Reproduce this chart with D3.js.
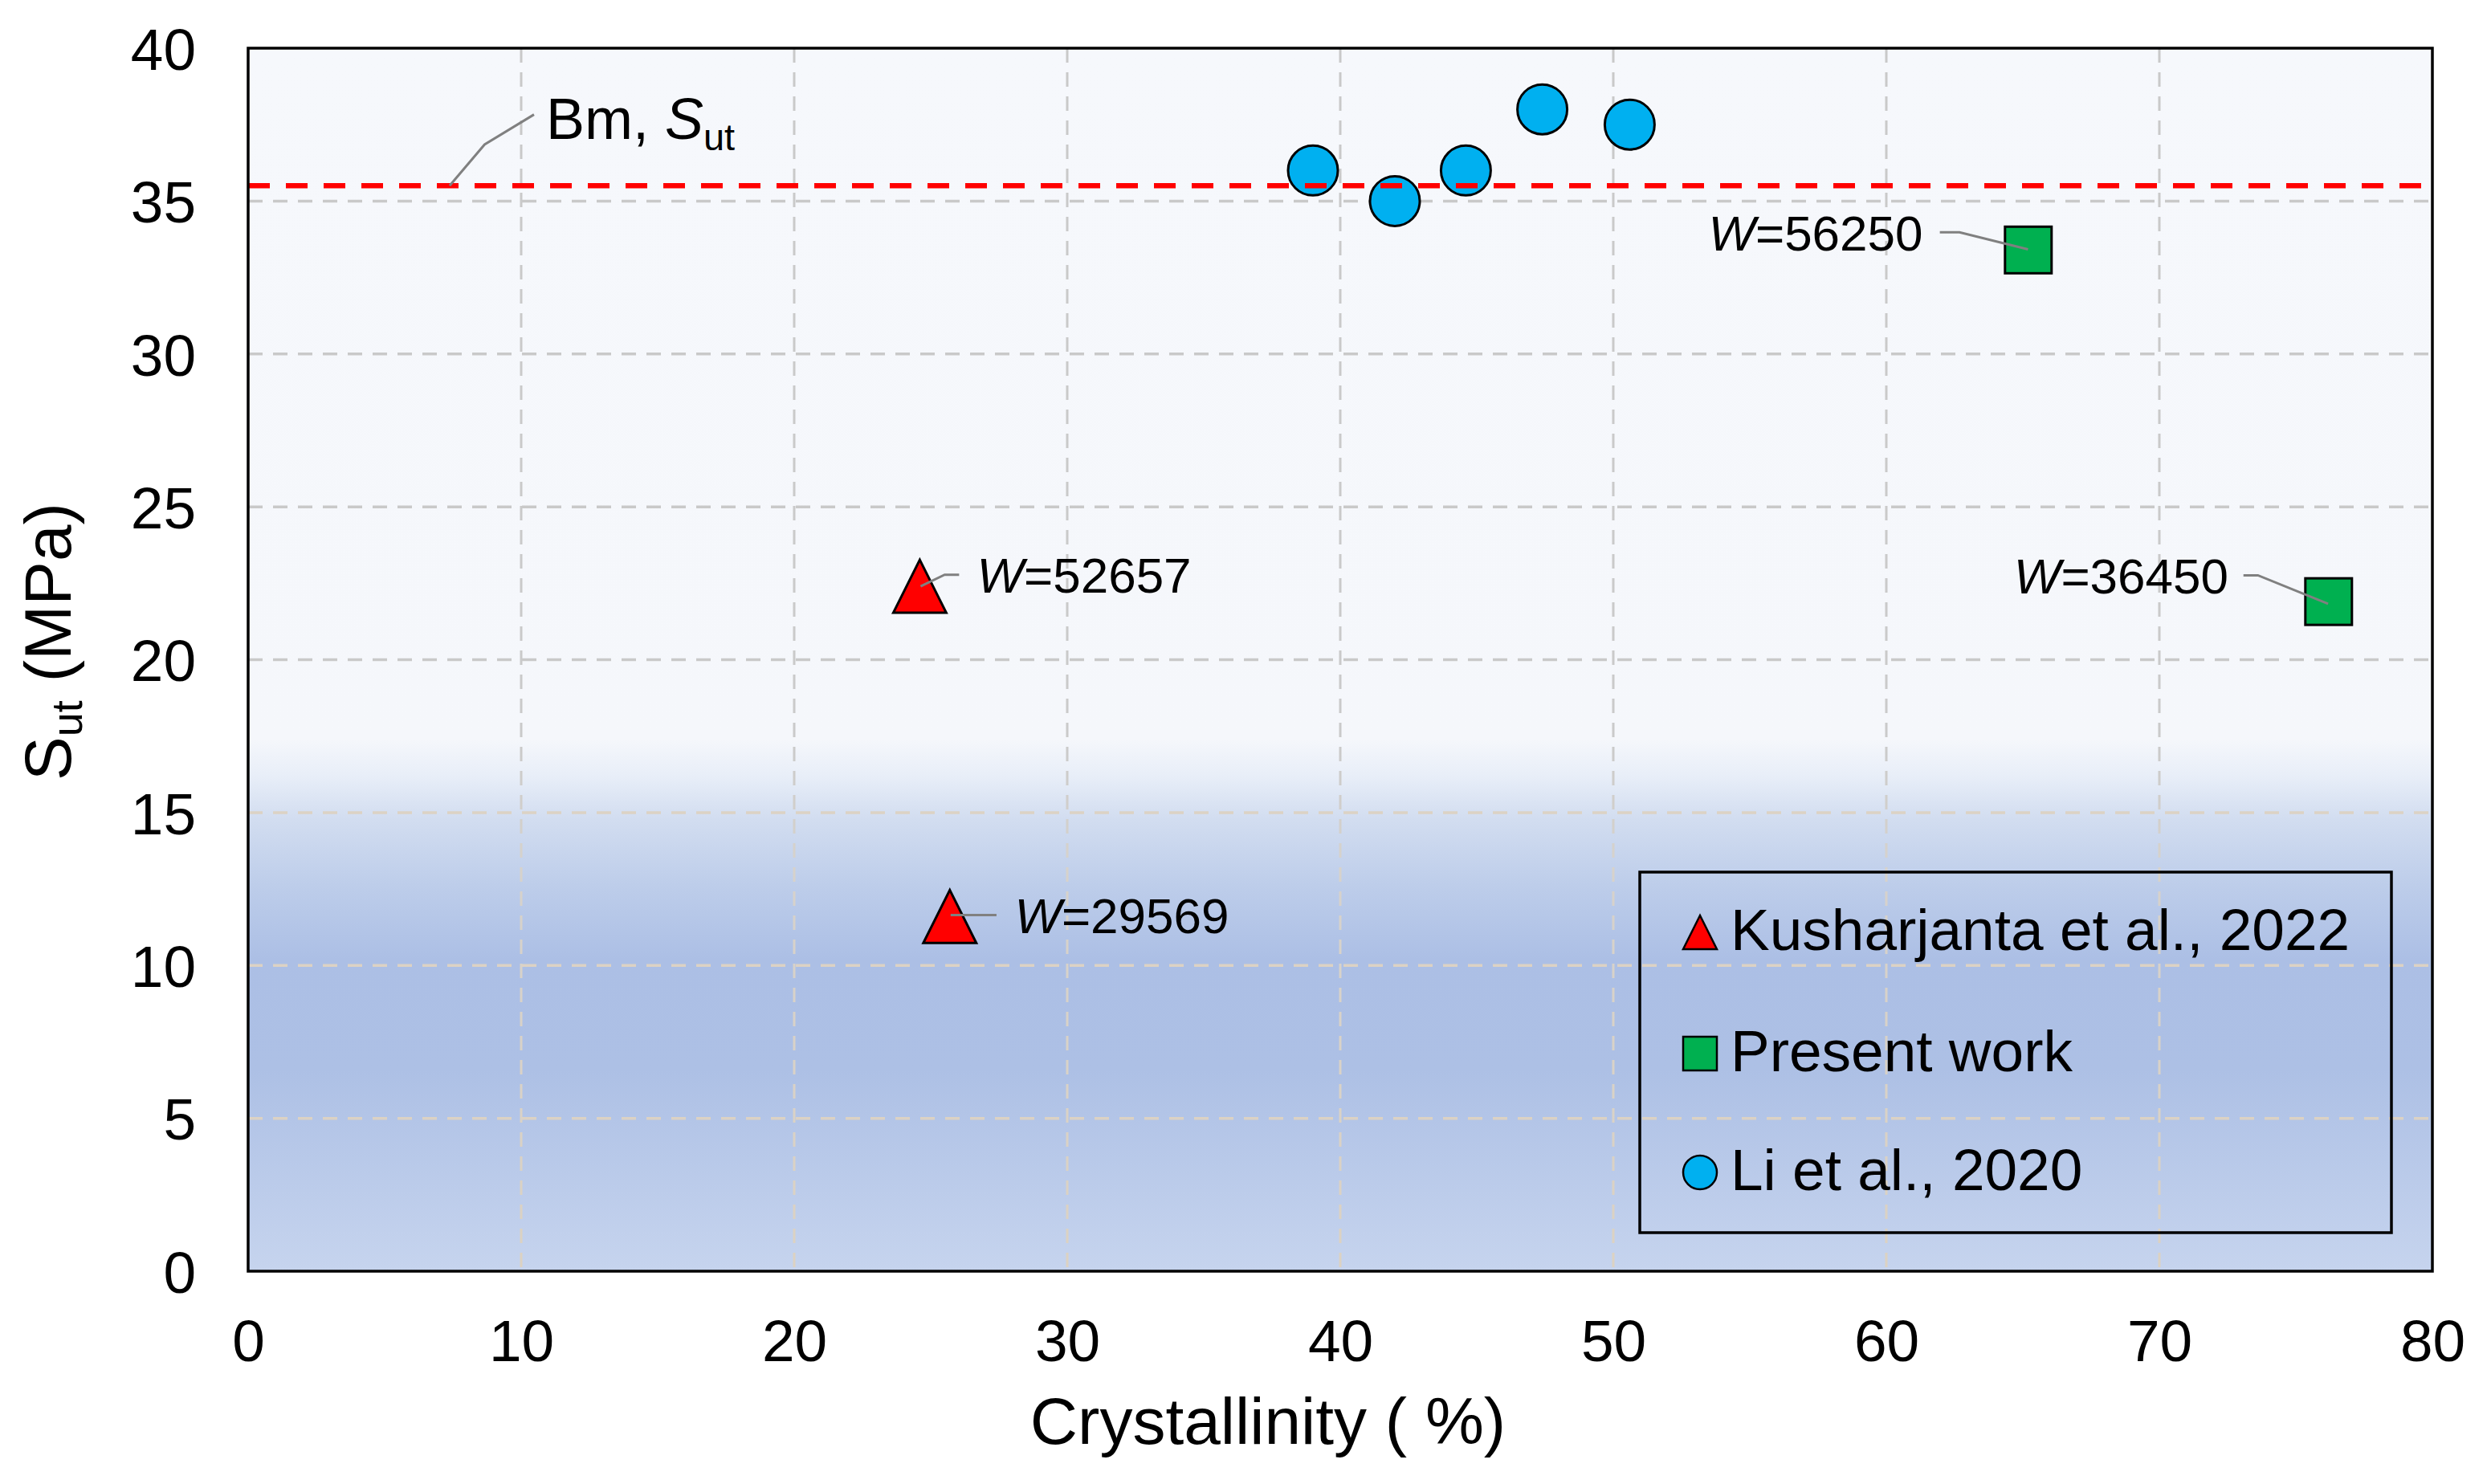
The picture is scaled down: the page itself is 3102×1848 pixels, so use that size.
<!DOCTYPE html>
<html>
<head>
<meta charset="utf-8">
<script src="https://cdn.jsdelivr.net/npm/d3@7"></script>
<style>
  html, body { margin: 0; padding: 0; background: #ffffff; }
  svg { display: block; font-family: "Liberation Sans", Arial, sans-serif; }
</style>
</head>
<body>
<svg id="chart" width="3102" height="1848"></svg>
<script>
// ---------------- data ----------------
const xTicks = [0, 10, 20, 30, 40, 50, 60, 70, 80];
const yTicks = [0, 5, 10, 15, 20, 25, 30, 35, 40];

const kusharjantaX = [24.6, 25.7];
const kusharjantaY = [22.4, 11.6];
const kusharjantaW = ["52657", "29569"];

const presentX = [65.2, 76.2];
const presentY = [33.4, 21.9];
const presentW = ["56250", "36450"];

const liX = [39.0, 42.0, 44.6, 47.4, 50.6];
const liY = [36.0, 35.0, 36.0, 38.0, 37.5];

const bmSut = 35.5;

const seriesNames = ["Kusharjanta et al., 2022", "Present work", "Li et al., 2020"];
const xTitle = "Crystallinity ( %)";

// label anchors & leader lines in data units
const labelAnchors = [
  { w: kusharjantaW[0], x: 26.69, y: 22.20, anchor: "start", leader: [[24.63, 22.40], [25.51, 22.78], [26.04, 22.78]] },
  { w: kusharjantaW[1], x: 28.07, y: 11.06, anchor: "start", leader: [[25.73, 11.65], [27.41, 11.65]] },
  { w: presentW[0], x: 61.34, y: 33.39, anchor: "end", leader: [[61.96, 33.98], [62.68, 33.98], [65.19, 33.42]] },
  { w: presentW[1], x: 72.53, y: 22.16, anchor: "end", leader: [[73.08, 22.76], [73.61, 22.76], [76.18, 21.83]] }
];
const bmLeader = [[7.38, 35.5], [8.66, 36.85], [10.47, 37.83]];
const bmLabelPos = [10.91, 37.03];

// ---------------- layout ----------------
const L = 309, R = 3029, T = 60, B = 1583;
const svg = d3.select("#chart");
const xs = d3.scaleLinear().domain([0, 80]).range([L, R]);
const ys = d3.scaleLinear().domain([0, 40]).range([B, T]);

const defs = svg.append("defs");
const bg = defs.append("linearGradient").attr("id", "bgGrad")
  .attr("x1", 0).attr("y1", 0).attr("x2", 0).attr("y2", 1);
[[0, "#f6f8fc"], [0.565, "#f5f7fb"], [0.595, "#e8eef8"], [0.63, "#d2ddf0"],
 [0.685, "#bdcdea"], [0.745, "#acbfe5"], [0.835, "#adc0e5"], [1, "#c6d4ee"]]
  .forEach(([o, c]) => bg.append("stop").attr("offset", o).attr("stop-color", c));

const gg = defs.append("linearGradient").attr("id", "gridGrad")
  .attr("gradientUnits", "userSpaceOnUse")
  .attr("x1", 0).attr("y1", T).attr("x2", 0).attr("y2", B);
[[0, "#c9c9c9"], [0.57, "#cacaca"], [0.66, "#d6d2cc"], [1, "#dcd2c2"]]
  .forEach(([o, c]) => gg.append("stop").attr("offset", o).attr("stop-color", c));

// plot background
svg.append("rect").attr("x", L).attr("y", T).attr("width", R - L).attr("height", B - T)
  .attr("fill", "url(#bgGrad)");

// grid
const grid = svg.append("g");
grid.selectAll("line.v").data(xTicks.filter(d => d > 0 && d < 80)).join("line")
  .attr("x1", d => xs(d)).attr("x2", d => xs(d)).attr("y1", T).attr("y2", B)
  .attr("stroke", "url(#gridGrad)").attr("stroke-width", 3).attr("stroke-dasharray", "18,12");
grid.selectAll("line.h").data(yTicks.filter(d => d > 0 && d < 40)).join("line")
  .attr("x1", L).attr("x2", R).attr("y1", d => ys(d)).attr("y2", d => ys(d))
  .attr("stroke", d => d >= 17 ? "#c9c9c9" : "#dcd2c4").attr("stroke-width", 3.5).attr("stroke-dasharray", "18,13");

// axes
const yAxis = svg.append("g").attr("transform", `translate(${L},0)`)
  .call(d3.axisLeft(ys).tickValues(yTicks).tickSize(0).tickPadding(65));
yAxis.select(".domain").remove();
yAxis.selectAll("text").attr("font-size", 73).attr("fill", "#000")
  .attr("font-family", "Liberation Sans, Arial, sans-serif").attr("dy", "0.36em");

const xAxis = svg.append("g").attr("transform", `translate(0,${B})`)
  .call(d3.axisBottom(xs).tickValues(xTicks).tickSize(0).tickPadding(60));
xAxis.select(".domain").remove();
xAxis.selectAll("text").attr("font-size", 73).attr("fill", "#000")
  .attr("font-family", "Liberation Sans, Arial, sans-serif").attr("dy", "0.71em");

// axis titles
svg.append("text").attr("x", 1579).attr("y", 1798).attr("text-anchor", "middle")
  .attr("font-size", 82).attr("fill", "#000").text(xTitle);

const yt = svg.append("text").attr("transform", "translate(88,799) rotate(-90)")
  .attr("text-anchor", "middle").attr("font-size", 82).attr("fill", "#000");
yt.append("tspan").text("S");
yt.append("tspan").attr("font-size", 54).attr("dy", 14).text("ut");
yt.append("tspan").attr("dy", -14).text(" (MPa)");

// points
const tri = (cx, cy, w, h) => `M${cx},${cy - h / 2}L${cx + w / 2},${cy + h / 2}L${cx - w / 2},${cy + h / 2}Z`;

svg.append("g").selectAll("circle").data(liX.map((x, i) => [x, liY[i]])).join("circle")
  .attr("cx", d => xs(d[0])).attr("cy", d => ys(d[1])).attr("r", 31)
  .attr("fill", "#00b0f0").attr("stroke", "#000").attr("stroke-width", 3);

svg.append("g").selectAll("rect").data(presentX.map((x, i) => [x, presentY[i]])).join("rect")
  .attr("x", d => xs(d[0]) - 29).attr("y", d => ys(d[1]) - 29).attr("width", 58).attr("height", 58)
  .attr("fill", "#00b050").attr("stroke", "#000").attr("stroke-width", 3);

svg.append("g").selectAll("path").data(kusharjantaX.map((x, i) => [x, kusharjantaY[i]])).join("path")
  .attr("d", d => tri(xs(d[0]), ys(d[1]), 66, 66))
  .attr("fill", "#ff0000").attr("stroke", "#000").attr("stroke-width", 3).attr("stroke-linejoin", "miter");

// reference line
svg.append("line").attr("x1", L).attr("x2", R).attr("y1", ys(bmSut)).attr("y2", ys(bmSut))
  .attr("stroke", "#ff0000").attr("stroke-width", 6.5).attr("stroke-dasharray", "27,20");

// leaders & labels
const lineGen = d3.line().x(d => xs(d[0])).y(d => ys(d[1]));
svg.append("path").attr("d", lineGen(bmLeader)).attr("fill", "none")
  .attr("stroke", "#808080").attr("stroke-width", 3);
const bmt = svg.append("text").attr("x", xs(bmLabelPos[0])).attr("y", ys(bmLabelPos[1]))
  .attr("font-size", 72).attr("fill", "#000");
bmt.append("tspan").text("Bm, ");
bmt.append("tspan").attr("font-style", "italic").text("S");
bmt.append("tspan").attr("font-size", 47).attr("dy", 14).text("ut");

labelAnchors.forEach(a => {
  svg.append("path").attr("d", lineGen(a.leader)).attr("fill", "none")
    .attr("stroke", "#808080").attr("stroke-width", 3);
  const t = svg.append("text").attr("x", xs(a.x)).attr("y", ys(a.y))
    .attr("text-anchor", a.anchor).attr("font-size", 62).attr("fill", "#000");
  t.append("tspan").attr("font-style", "italic").text("W");
  t.append("tspan").text("=" + a.w);
});

// legend
const lg = svg.append("g");
lg.append("rect").attr("x", 2042).attr("y", 1086).attr("width", 936).attr("height", 449)
  .attr("fill", "none").attr("stroke", "#000").attr("stroke-width", 3.5);
const rowY = [1161, 1312, 1460];
const mx = 2117;
lg.append("path").attr("d", tri(mx, rowY[0], 42, 42))
  .attr("fill", "#ff0000").attr("stroke", "#000").attr("stroke-width", 2.5);
lg.append("rect").attr("x", mx - 21).attr("y", rowY[1] - 21).attr("width", 42).attr("height", 42)
  .attr("fill", "#00b050").attr("stroke", "#000").attr("stroke-width", 2.5);
lg.append("circle").attr("cx", mx).attr("cy", rowY[2]).attr("r", 21)
  .attr("fill", "#00b0f0").attr("stroke", "#000").attr("stroke-width", 2.5);
lg.selectAll("text.lt").data(seriesNames).join("text")
  .attr("x", 2155).attr("y", (d, i) => rowY[i] + 22)
  .attr("font-size", 73).attr("fill", "#000").text(d => d);

// plot border
svg.append("rect").attr("x", L).attr("y", T).attr("width", R - L).attr("height", B - T)
  .attr("fill", "none").attr("stroke", "#000").attr("stroke-width", 3.5);
</script>
</body>
</html>
